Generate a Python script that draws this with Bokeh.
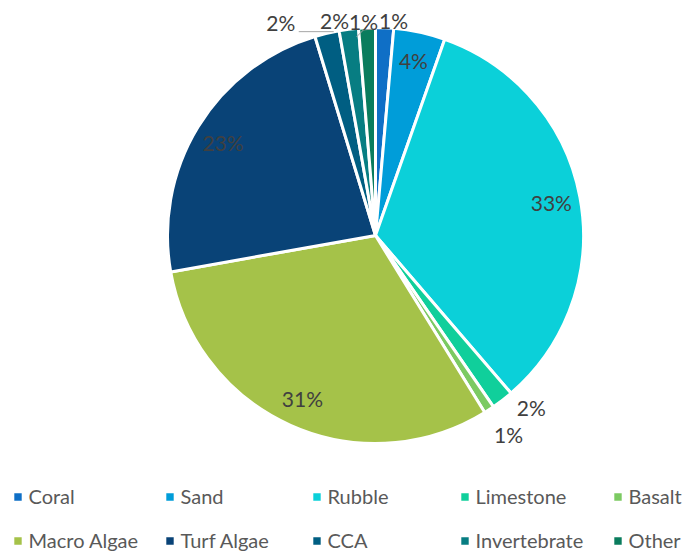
import math
from bokeh.plotting import figure
from bokeh.models import ColumnDataSource, Legend, LegendItem
from bokeh.embed import file_html
from bokeh.resources import INLINE
from bokeh.core.properties import value

# ---------------- data ----------------
categories = ["Coral", "Sand", "Rubble", "Limestone", "Basalt",
              "Macro Algae", "Turf Algae", "CCA", "Invertebrate", "Other"]
percent = [1.4, 4.0, 33.3, 1.7, 0.8, 31.0, 23.1, 1.9, 1.5, 1.3]
colors = ["#0F6FC6", "#009DD9", "#0BD0D9", "#10CF9B", "#7CCA62",
          "#A5C249", "#094377", "#005E82", "#077D82", "#0A7C5D"]

# ---------------- layout ----------------
W, H = 685, 552
CX, CY = 375, 235          # pie centre, pixels from top-left
R = 208                    # pie radius, pixels
INSIDE = 0.86              # inside label radius factor
# outside labels: (radius px, angle deg clockwise from 12 o'clock)
outside = {
    "Limestone": (232, 137.8),
    "Basalt": (239, 146.2),
    "CCA": (233, -24.0),
    "Invertebrate": (219, -10.8),
    "Other": (214, -3.2),
    "Coral": (216, 4.8),
}
FONT = "Lato"

total = sum(percent)
starts, ends, lx, ly, labels = [], [], [], [], []
cum = 0.0
for cat, v in zip(categories, percent):
    f0 = cum / total
    cum += v
    f1 = cum / total
    starts.append(math.pi / 2 - 2 * math.pi * f0)
    ends.append(math.pi / 2 - 2 * math.pi * f1)
    if cat in outside:
        rr, deg = outside[cat]
        a = math.radians(deg)
        lx.append(rr * math.sin(a))
        ly.append(rr * math.cos(a))
    else:
        mid = (f0 + f1) / 2 * 2 * math.pi
        lx.append(INSIDE * R * math.sin(mid))
        ly.append(INSIDE * R * math.cos(mid))
    labels.append(f"{round(v / total * 100)}%")

src = ColumnDataSource(dict(cat=categories, start=starts, end=ends, color=colors))
lsrc = ColumnDataSource(dict(x=lx, y=ly, text=labels))

p = figure(width=W, height=H, x_range=(-CX, W - CX), y_range=(-(H - CY), CY),
           output_backend="svg", toolbar_location=None, min_border=0,
           x_axis_location=None, y_axis_location=None, outline_line_color=None)
p.xgrid.visible = False
p.ygrid.visible = False

wr = p.wedge(x=0, y=0, radius=R, start_angle="start", end_angle="end",
             direction="clock", fill_color="color", line_color="white",
             line_width=3, source=src)

# leader lines (relative to their labels)
i_cca = categories.index("CCA")
i_oth = categories.index("Other")
p.line(x=[lx[i_cca] + 18, lx[i_cca] + 53], y=[ly[i_cca] - 9, ly[i_cca] - 9],
       line_color="#A6A6A6", line_width=1)
p.line(x=[lx[i_oth] - 7, lx[i_oth], lx[i_oth] + 13],
       y=[ly[i_oth] - 15, ly[i_oth] - 8, ly[i_oth] - 7],
       line_color="#A6A6A6", line_width=1)

p.text(x="x", y="y", text="text", source=lsrc, text_align="center",
       text_baseline="middle", text_font=value(FONT), text_font_size="21px",
       text_color="#404040")

# legend: 5 columns x 2 rows
col_centers = [17, 169, 316, 464, 617]
GW = 13
for j in range(5):
    items = [LegendItem(label=categories[j], renderers=[wr], index=j),
             LegendItem(label=categories[j + 5], renderers=[wr], index=j + 5)]
    leg = Legend(items=items, location=(col_centers[j] - GW / 2, 0),
                 orientation="vertical", glyph_width=GW, glyph_height=GW,
                 label_standoff=5, spacing=20, padding=0, margin=0,
                 label_height=20, border_line_color=None,
                 background_fill_alpha=0, label_text_font=FONT,
                 label_text_font_size="20px", label_text_color="#595959")
    p.add_layout(leg)

open("out.html", "w").write(file_html(p, INLINE))
